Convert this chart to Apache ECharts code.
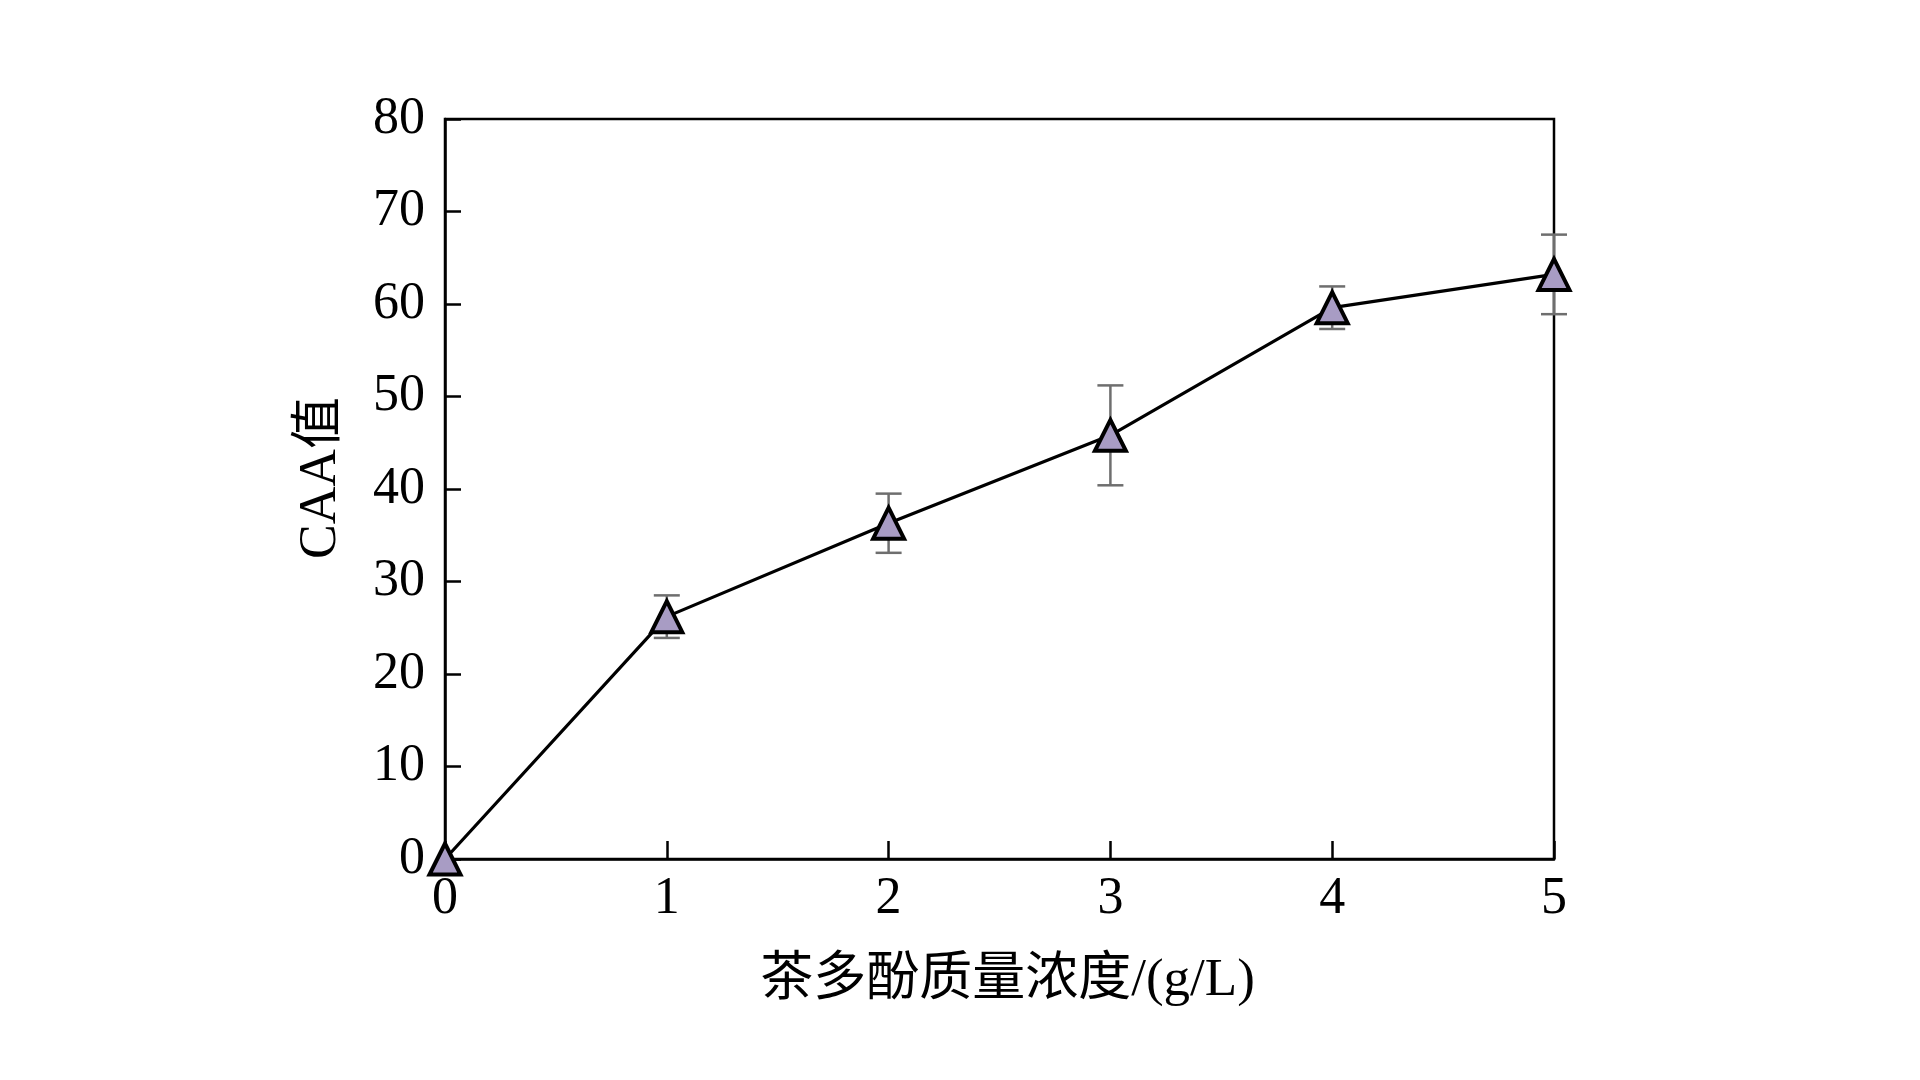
<!DOCTYPE html>
<html>
<head>
<meta charset="utf-8">
<script src="https://cdn.jsdelivr.net/npm/echarts@6/dist/echarts.min.js"></script>
<style>
html,body{margin:0;padding:0;background:#fff;}
#chart{width:1920px;height:1080px;}
</style>
</head>
<body>
<div id="chart"></div>
<script>
// Data
var concentrations = [0, 1, 2, 3, 4, 5];
var caaValues = [0, 26.2, 36.3, 45.8, 59.6, 63.2];
var caaErrors = [0, 2.3, 3.2, 5.4, 2.3, 4.3];
var yTicks = { min: 0, max: 80, interval: 10 };
var xTicks = { min: 0, max: 5, interval: 1 };
var xName = '茶多酚质量浓度/(g/L)';
var yName = 'CAA值';

var FONT = '"Liberation Serif", "Times New Roman", "Noto Sans CJK SC", serif';

var lineData = concentrations.map(function (x, i) { return [x, caaValues[i]]; });
var errData = concentrations.map(function (x, i) {
  return [x, caaValues[i] - caaErrors[i], caaValues[i] + caaErrors[i]];
}).filter(function (d, i) { return caaErrors[i] > 0; });

var chart = echarts.init(document.getElementById('chart'));
chart.setOption({
  backgroundColor: '#fff',
  animation: false,
  grid: {
    left: 445, right: 366, top: 119, bottom: 221,
    show: true, borderColor: '#000', borderWidth: 2.5, backgroundColor: 'transparent'
  },
  xAxis: {
    type: 'value',
    min: xTicks.min, max: xTicks.max, interval: xTicks.interval,
    name: xName, nameLocation: 'middle', nameGap: 96,
    nameTextStyle: { fontFamily: FONT, fontSize: 53, color: '#000', padding: [0, 0, 0, 16] },
    axisLine: { show: true, lineStyle: { color: '#000', width: 2.5 } },
    axisTick: { show: true, inside: true, length: 18, lineStyle: { color: '#000', width: 2.5 } },
    axisLabel: { fontFamily: FONT, fontSize: 52, color: '#000', margin: 14 },
    splitLine: { show: false }
  },
  yAxis: {
    type: 'value',
    min: yTicks.min, max: yTicks.max, interval: yTicks.interval,
    name: yName, nameLocation: 'middle', nameGap: 98,
    nameTextStyle: { fontFamily: FONT, fontSize: 52, color: '#000', padding: [0, 0, 0, 22] },
    axisLine: { show: true, lineStyle: { color: '#000', width: 2.5 } },
    axisTick: { show: true, inside: true, length: 16, lineStyle: { color: '#000', width: 2.5 } },
    axisLabel: { fontFamily: FONT, fontSize: 52, color: '#000', margin: 20 },
    splitLine: { show: false }
  },
  series: [
    {
      type: 'custom',
      name: 'err',
      clip: false,
      z: 1,
      data: errData,
      renderItem: function (params, api) {
        var x = api.value(0);
        var lo = api.coord([x, api.value(1)]);
        var hi = api.coord([x, api.value(2)]);
        var hw = 13;
        var style = { stroke: '#6e6e6e', lineWidth: 2.5 };
        return {
          type: 'group',
          children: [
            { type: 'line', shape: { x1: lo[0], y1: lo[1], x2: hi[0], y2: hi[1] }, style: style },
            { type: 'line', shape: { x1: lo[0] - hw, y1: lo[1], x2: lo[0] + hw, y2: lo[1] }, style: style },
            { type: 'line', shape: { x1: hi[0] - hw, y1: hi[1], x2: hi[0] + hw, y2: hi[1] }, style: style }
          ]
        };
      }
    },
    {
      type: 'line',
      name: 'CAA',
      data: lineData,
      clip: false,
      z: 3,
      symbol: 'triangle',
      symbolSize: [31, 31],
      lineStyle: { color: '#000', width: 3.2 },
      itemStyle: { color: '#a89cc4', borderColor: '#000', borderWidth: 4 }
    }
  ]
});
</script>
</body>
</html>
